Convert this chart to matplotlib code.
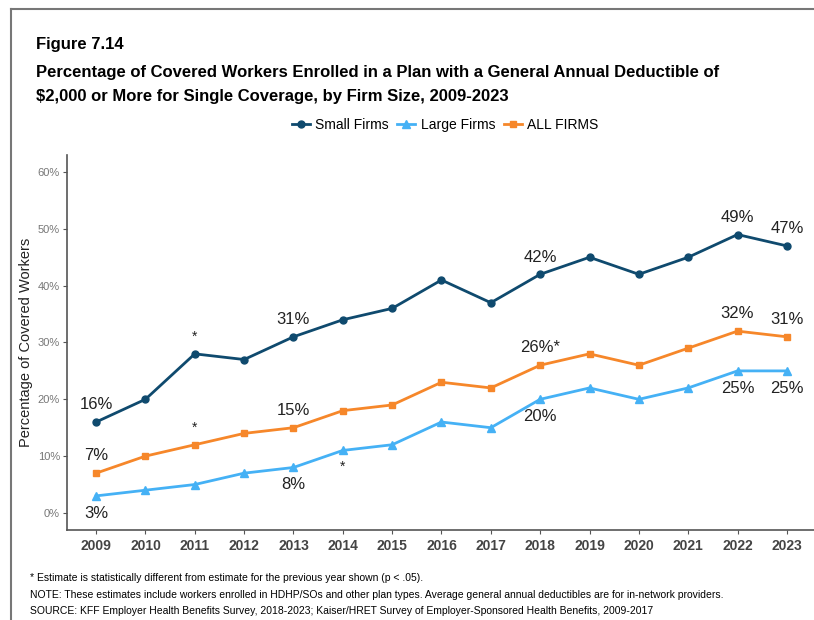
import numpy as np
import matplotlib.pyplot as plt
from matplotlib.lines import Line2D

plt.rcParams['font.family'] = ['Liberation Sans', 'DejaVu Sans']

years = list(range(2009, 2024))
small_firms = [16, 20, 28, 27, 31, 34, 36, 41, 37, 42, 45, 42, 45, 49, 47]
large_firms = [3, 4, 5, 7, 8, 11, 12, 16, 15, 20, 22, 20, 22, 25, 25]
all_firms = [7, 10, 12, 14, 15, 18, 19, 23, 22, 26, 28, 26, 29, 32, 31]

# (year, text, above?) labels per series
small_labels = [(2009, "16%", True), (2011, "*", True), (2013, "31%", True),
                (2018, "42%", True), (2022, "49%", True), (2023, "47%", True)]
all_labels = [(2009, "7%", True), (2011, "*", True), (2013, "15%", True),
              (2018, "26%*", True), (2022, "32%", True), (2023, "31%", True)]
large_labels = [(2009, "3%", False), (2013, "8%", False), (2014, "*", False),
                (2018, "20%", False), (2022, "25%", False), (2023, "25%", False)]

c_small = "#0f4a6e"
c_large = "#45b1f5"
c_all = "#f6872a"

fig = plt.figure(figsize=(8.14, 6.2), dpi=100)
ax = fig.add_axes([0.0823, 0.1452, 0.9177, 0.6048])

ax.plot(years, small_firms, color=c_small, marker="o", markersize=5, linewidth=2, label="Small Firms")
ax.plot(years, large_firms, color=c_large, marker="^", markersize=6, linewidth=2, label="Large Firms")
ax.plot(years, all_firms, color=c_all, marker="s", markersize=5, linewidth=2, label="ALL FIRMS")

def add_labels(labels, values):
    for yr, txt, above in labels:
        v = values[years.index(yr)]
        fs = 10 if txt == "*" else 12
        off = 7 if above else -7
        ax.annotate(txt, (yr, v), textcoords="offset points", xytext=(0, off),
                    ha="center", va="bottom" if above else "top",
                    fontsize=fs, color="#222222")

add_labels(small_labels, small_firms)
add_labels(all_labels, all_firms)
add_labels(large_labels, large_firms)

ax.set_xlim(2008.41, 2023.55)
ax.set_ylim(-3, 63)
ax.set_xticks(years)
ax.set_xticklabels([str(y) for y in years], fontsize=10, fontweight="bold")
ax.set_yticks([0, 10, 20, 30, 40, 50, 60])
ax.set_yticklabels(["0%", "10%", "20%", "30%", "40%", "50%", "60%"], fontsize=8)
ax.tick_params(axis="both", colors="#555555", length=3)
ax.tick_params(axis="x", labelcolor="#444444")
ax.tick_params(axis="y", labelcolor="#777777", pad=2)
ax.spines["top"].set_visible(False)
ax.spines["right"].set_visible(False)
for s in ["left", "bottom"]:
    ax.spines[s].set_color("#555555")
    ax.spines[s].set_linewidth(1.2)
ax.set_ylabel("Percentage of Covered Workers", fontsize=10.5, color="#222222")
ax.yaxis.set_label_coords(-0.046, 0.5)

ax.legend(loc="center", bbox_to_anchor=(445 / 814, 1 - 125 / 620), bbox_transform=fig.transFigure,
          ncol=3, frameon=False, fontsize=10, handlelength=1.3,
          columnspacing=0.6, handletextpad=0.4)

title_font = dict(fontsize=12, fontweight="bold", va="center")
fig.text(36 / 814, 1 - 45 / 620, "Figure 7.14", **title_font)
fig.text(36 / 814, 1 - 72 / 620,
         "Percentage of Covered Workers Enrolled in a Plan with a General Annual Deductible of",
         **title_font)
fig.text(36 / 814, 1 - 97 / 620,
         "$2,000 or More for Single Coverage, by Firm Size, 2009-2023", **title_font)

foot_font = dict(fontsize=7.5, va="center")
fig.text(30 / 814, 1 - 578 / 620,
         "* Estimate is statistically different from estimate for the previous year shown (p < .05).",
         **foot_font)
fig.text(30 / 814, 1 - 595 / 620,
         "NOTE: These estimates include workers enrolled in HDHP/SOs and other plan types. Average general annual deductibles are for in-network providers.",
         **foot_font)
fig.text(30 / 814, 1 - 611 / 620,
         "SOURCE: KFF Employer Health Benefits Survey, 2018-2023; Kaiser/HRET Survey of Employer-Sponsored Health Benefits, 2009-2017",
         **foot_font)

# outer frame (left and top)
fig.add_artist(Line2D([11 / 814, 11 / 814], [0, 1 - 9 / 620], color="#777777", linewidth=1.5))
fig.add_artist(Line2D([11 / 814, 1], [1 - 9 / 620, 1 - 9 / 620], color="#777777", linewidth=1.5))

fig.savefig("out.png", dpi=100)
